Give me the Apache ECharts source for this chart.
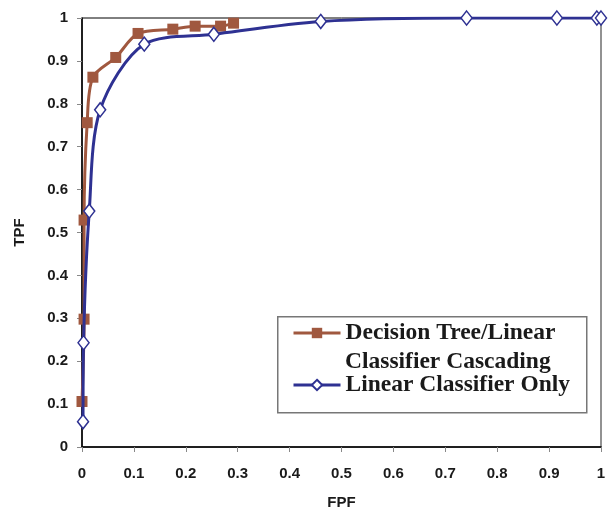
<!DOCTYPE html>
<html>
<head>
<meta charset="utf-8">
<script src="https://cdn.jsdelivr.net/npm/echarts@6/dist/echarts.min.js"></script>
<style>html,body{margin:0;padding:0;background:#fff}#c{width:608px;height:515px}</style>
</head>
<body>
<div id="c"></div>
<script>
// ---- data ----
var cascadeName = 'Decision Tree/Linear Classifier Cascading';
var linearName = 'Linear Classifier Only';
var cascadeFPF = [0.0, 0.004, 0.004, 0.010, 0.021, 0.065, 0.108, 0.175, 0.218, 0.267, 0.292];
var cascadeTPF = [0.106, 0.298, 0.529, 0.756, 0.862, 0.908, 0.964, 0.974, 0.981, 0.981, 0.988];
var linearFPF = [0.002, 0.003, 0.014, 0.035, 0.120, 0.254, 0.460, 0.741, 0.915, 0.992, 1.0];
var linearTPF = [0.059, 0.243, 0.550, 0.786, 0.939, 0.962, 0.992, 1.0, 1.0, 1.0, 1.0];
var axisMin = 0, axisMax = 1, axisStep = 0.1;

function pairs(xs, ys) { return xs.map(function (x, i) { return [x, ys[i]]; }); }

var sans = '"Liberation Sans", Arial, sans-serif';
var serif = '"Liberation Serif", "Times New Roman", serif';
var brown = '#A0583F';
var blue = '#2E3192';

var chart = echarts.init(document.getElementById('c'), null, { renderer: 'canvas' });
chart.setOption({
  animation: false,
  backgroundColor: '#fff',
  grid: { left: 82, right: 7, top: 18, bottom: 68, outerBoundsMode: 'none', containLabel: false,
          show: true, borderColor: '#000', borderWidth: 1, backgroundColor: 'transparent' },
  xAxis: {
    type: 'value', min: axisMin, max: axisMax, interval: axisStep,
    name: 'FPF', nameLocation: 'middle', nameGap: 48,
    nameTextStyle: { fontFamily: sans, fontWeight: 'bold', fontSize: 15, color: '#1a1a1a' },
    axisLine: { show: true, lineStyle: { color: '#000', width: 1.5 } },
    axisTick: { show: true, length: 5, lineStyle: { color: '#888' } },
    axisLabel: { fontFamily: sans, fontWeight: 'bold', fontSize: 15, color: '#1a1a1a', margin: 19 },
    splitLine: { show: false }
  },
  yAxis: [{
    type: 'value', min: axisMin, max: axisMax, interval: axisStep,
    name: 'TPF', nameLocation: 'middle', nameGap: 55, nameRotate: 90,
    nameTextStyle: { fontFamily: sans, fontWeight: 'bold', fontSize: 15, color: '#1a1a1a' },
    axisLine: { show: true, lineStyle: { color: '#000', width: 1.5 } },
    axisTick: { show: true, length: 5, lineStyle: { color: '#888' } },
    axisLabel: { fontFamily: sans, fontWeight: 'bold', fontSize: 15, color: '#1a1a1a', margin: 14 },
    splitLine: { show: false }
  }, {
    type: 'value', min: axisMin, max: axisMax, position: 'right',
    axisLine: { show: true, lineStyle: { color: '#999', width: 1.5 } },
    axisTick: { show: false }, axisLabel: { show: false }, splitLine: { show: false }
  }],
  legend: {
    orient: 'vertical', left: 292, top: 320, z: 20, padding: 0,
    itemWidth: 47, itemHeight: 13, itemGap: 26, itemTextGap: 6,
    lineStyle: { width: 3 },
    textStyle: { fontFamily: serif, fontWeight: 'bold', fontSize: 23.5, color: '#1a1a1a', lineHeight: 26 },
    formatter: function (n) { return n === cascadeName ? 'Decision Tree/Linear' : n; },
    data: [
      { name: cascadeName, lineStyle: { width: 3, color: brown } },
      { name: linearName, lineStyle: { width: 3, color: blue } }
    ]
  },
  graphic: [
    { type: 'rect', left: 277, top: 316, z: 1, shape: { width: 309, height: 96 },
      style: { fill: '#fff', stroke: '#777', lineWidth: 1.5 } },
    { type: 'text', left: 345, top: 350, z: 20,
      style: { text: 'Classifier Cascading', font: 'bold 23.5px ' + serif, fill: '#1a1a1a' } }
  ],
  series: [{
    name: cascadeName, type: 'line', smooth: 0.3,
    data: pairs(cascadeFPF, cascadeTPF),
    symbol: 'rect', symbolSize: 11,
    lineStyle: { color: brown, width: 3 },
    itemStyle: { color: brown },
    z: 3
  }, {
    name: linearName, type: 'line', smooth: 0.3,
    data: pairs(linearFPF, linearTPF),
    symbol: 'diamond', symbolSize: [11, 14],
    lineStyle: { color: blue, width: 3 },
    itemStyle: { color: '#fff', borderColor: blue, borderWidth: 1.5 },
    z: 4
  }]
});
</script>
</body>
</html>
